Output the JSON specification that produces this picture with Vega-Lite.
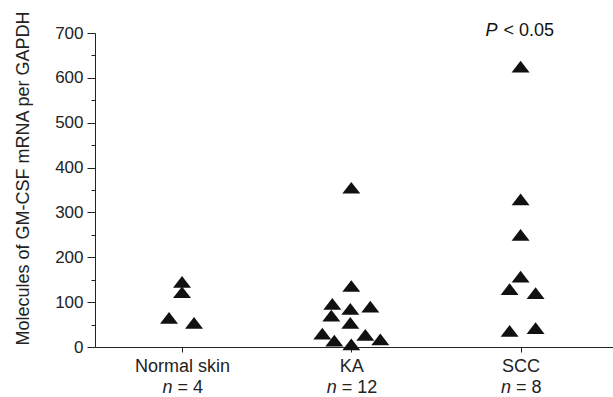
{
  "$schema": "https://vega.github.io/schema/vega-lite/v6.json",
  "width": 518,
  "height": 314,
  "autosize": "none",
  "padding": {"left": 95, "top": 33, "right": 0, "bottom": 50},
  "background": "white",
  "config": {
    "view": {"stroke": null},
    "font": "Liberation Sans",
    "axis": {"grid": false, "domainColor": "#222", "tickColor": "#222", "labelColor": "#222", "titleColor": "#222", "labelFont": "Liberation Sans", "titleFont": "Liberation Sans"}
  },
  "datasets": {
    "pts": [
      {"group": "Normal skin", "value": 145, "jitter": 0},
      {"group": "Normal skin", "value": 122, "jitter": 0},
      {"group": "Normal skin", "value": 65, "jitter": -13},
      {"group": "Normal skin", "value": 54, "jitter": 12},
      {"group": "KA", "value": 355, "jitter": 0},
      {"group": "KA", "value": 136, "jitter": 0},
      {"group": "KA", "value": 96, "jitter": -19},
      {"group": "KA", "value": 85, "jitter": -1},
      {"group": "KA", "value": 90, "jitter": 19},
      {"group": "KA", "value": 70, "jitter": -20},
      {"group": "KA", "value": 54, "jitter": -1},
      {"group": "KA", "value": 30, "jitter": -29},
      {"group": "KA", "value": 14, "jitter": -17},
      {"group": "KA", "value": 6, "jitter": 0},
      {"group": "KA", "value": 27, "jitter": 14},
      {"group": "KA", "value": 17, "jitter": 29},
      {"group": "SCC", "value": 625, "jitter": 0},
      {"group": "SCC", "value": 329, "jitter": 0},
      {"group": "SCC", "value": 250, "jitter": 0},
      {"group": "SCC", "value": 157, "jitter": 0},
      {"group": "SCC", "value": 129, "jitter": -11},
      {"group": "SCC", "value": 120, "jitter": 15},
      {"group": "SCC", "value": 36, "jitter": -11},
      {"group": "SCC", "value": 42, "jitter": 15}
    ],
    "note": [
      {"group": "SCC", "value": 704, "p": "P", "rest": "< 0.05"}
    ]
  },
  "resolve": {"axis": {"x": "independent", "y": "independent"}},
  "layer": [
    {
      "data": {"name": "pts"},
      "mark": {"type": "point", "filled": true, "color": "#111", "opacity": 1, "size": 324, "shape": "M-1,0.65L1,0.65L0,-0.65Z", "clip": false},
      "encoding": {
        "x": {
          "field": "group", "type": "nominal",
          "scale": {"type": "point", "domain": ["Normal skin", "KA", "SCC"], "padding": 0.53, "align": 0.485},
          "axis": {
            "orient": "bottom", "title": null, "labelAngle": 0, "labelFontSize": 18, "tickSize": 5, "labelPadding": 5,
            "labelBaseline": "top"
          }
        },
        "y": {
          "field": "value", "type": "quantitative",
          "scale": {"domain": [0, 700], "nice": false},
          "axis": {
            "orient": "left",
            "title": "Molecules of GM-CSF mRNA per GAPDH", "titleFontSize": 18, "titleFontWeight": "normal",
            "titlePadding": 22, "titleY": 145, "values": [0, 100, 200, 300, 400, 500, 600, 700],
            "labelFontSize": 17, "tickSize": 8, "labelPadding": 4
          }
        },
        "xOffset": {"field": "jitter", "type": "quantitative", "scale": {"domain": [-30, 30], "range": [-30, 30]}}
      }
    },
    {
      "data": {"name": "note"},
      "mark": {"type": "text", "fontStyle": "italic", "fontSize": 18, "align": "right", "baseline": "middle", "dx": -23, "color": "#111"},
      "encoding": {
        "x": {
          "field": "group", "type": "nominal",
          "axis": {
            "orient": "bottom", "title": null, "domain": false, "ticks": false, "tickSize": 0, "labelAngle": 0,
            "labelFontSize": 18, "labelFontStyle": "italic", "labelPadding": 31, "labelBaseline": "top", "labelAlign": "right",
            "labelOffset": {"condition": {"test": "datum.value == 'KA'", "value": -15}, "value": -10},
            "labelExpr": "'n'"
          }
        },
        "y": {
          "field": "value", "type": "quantitative",
          "axis": {"orient": "left", "title": null, "labels": false, "domain": false, "values": [50, 150, 250, 350, 450, 550, 650], "tickSize": 4}
        },
        "text": {"field": "p"}
      }
    },
    {
      "data": {"name": "note"},
      "mark": {"type": "text", "fontSize": 18, "align": "left", "baseline": "middle", "dx": -17, "color": "#111"},
      "encoding": {
        "x": {
          "field": "group", "type": "nominal",
          "axis": {
            "orient": "bottom", "title": null, "domain": false, "ticks": false, "tickSize": 0, "labelAngle": 0,
            "labelFontSize": 18, "labelPadding": 31, "labelBaseline": "top", "labelAlign": "left",
            "labelOffset": {"condition": {"test": "datum.value == 'KA'", "value": -10}, "value": -5},
            "labelExpr": "datum.value == 'Normal skin' ? '= 4' : datum.value == 'KA' ? '= 12' : '= 8'"
          }
        },
        "y": {"field": "value", "type": "quantitative", "axis": null},
        "text": {"field": "rest"}
      }
    }
  ]
}
